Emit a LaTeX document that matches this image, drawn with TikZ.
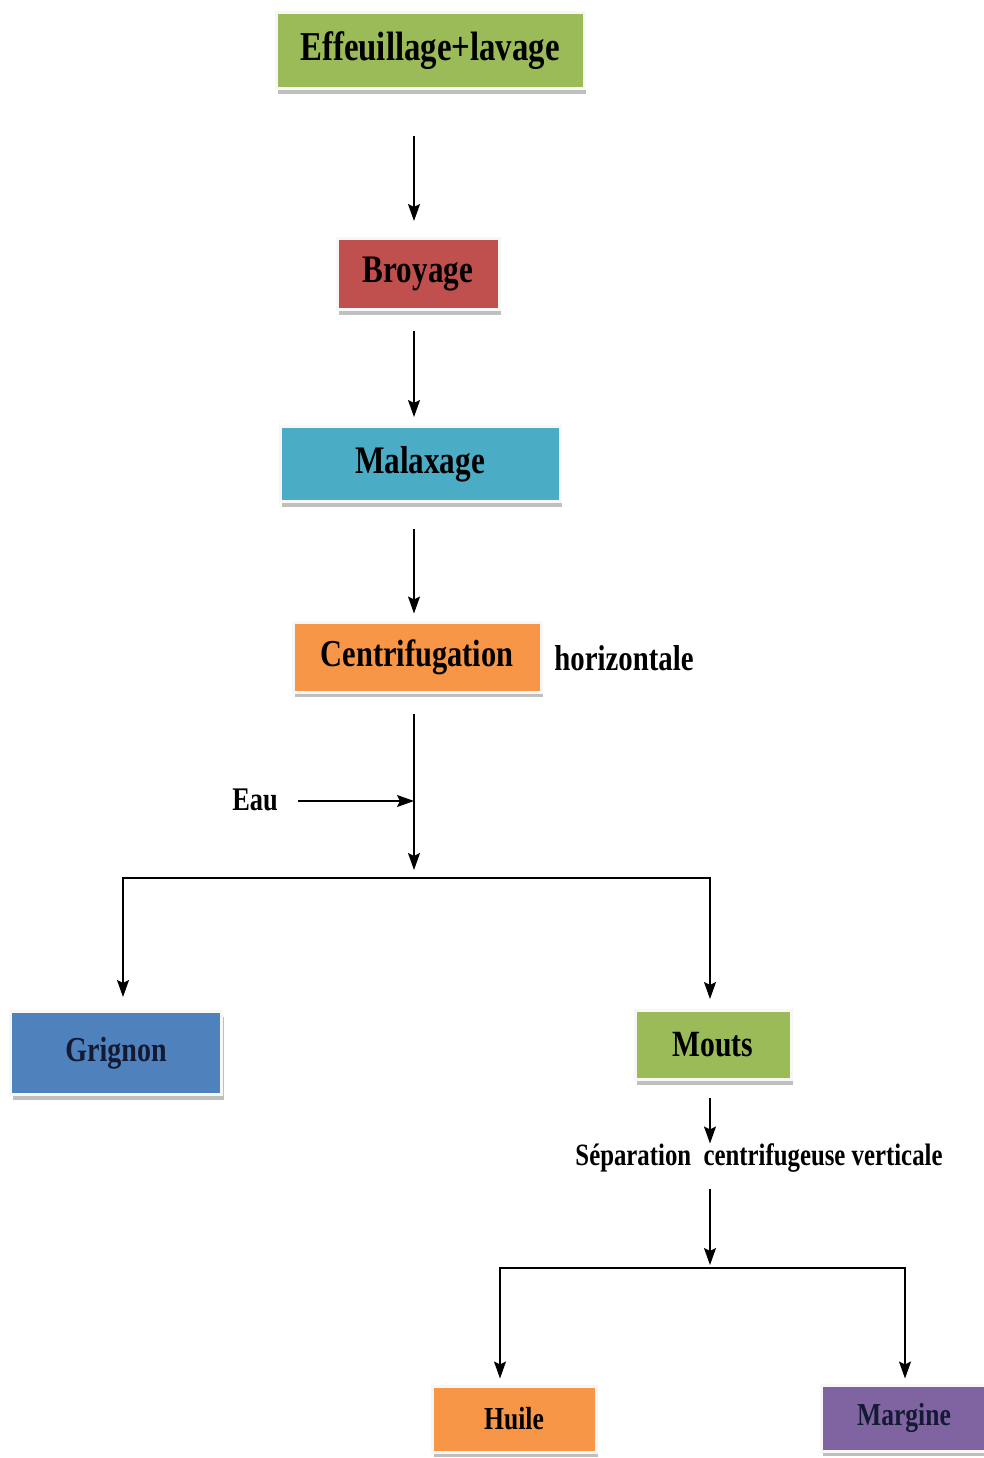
\documentclass[tikz,border=0pt]{standalone}
\usepackage{fontspec}
\setmainfont{Liberation Serif}
\newfontfamily\stepfont[FakeStretch=0.8]{Liberation Serif}
\usetikzlibrary{arrows.meta,shadows}

\definecolor{leafgreen}{HTML}{9BBB59}
\definecolor{brickred}{HTML}{C0504D}
\definecolor{aqua}{HTML}{4BACC6}
\definecolor{tangerine}{HTML}{F79646}
\definecolor{steelblue}{HTML}{4F81BD}
\definecolor{lavender}{HTML}{8064A2}
\definecolor{inkblue}{HTML}{141A33}

\begin{document}
\begin{tikzpicture}[x=1pt,y=-1pt,
    step_box/.style={rectangle,draw=white!94!gray,line width=3pt,inner sep=0pt,
        drop shadow={shadow xshift=2pt,shadow yshift=-5pt,opacity=0.5,fill=gray},
        font=\stepfont\bfseries},
    side_text/.style={inner sep=0pt,font=\stepfont\bfseries},
    flow/.style={-{Stealth[length=17pt,width=12pt,inset=3pt]},line width=1.8pt}]

    \useasboundingbox (0,0) rectangle (983,1458);

    \node[step_box,fill=leafgreen,minimum width=308pt,minimum height=76pt] (1) at (430,51) {\fontsize{41}{41}\selectfont Effeuillage+lavage};
    \node[step_box,fill=brickred,minimum width=162pt,minimum height=71pt] (2) at (418,274) {\fontsize{39}{39}\selectfont Broyage};
    \node[step_box,fill=aqua,minimum width=280pt,minimum height=75pt] (3) at (420,464) {\fontsize{39}{39}\selectfont Malaxage};
    \node[step_box,fill=tangerine,minimum width=248pt,minimum height=70pt] (4) at (417,657) {\fontsize{38}{38}\selectfont Centrifugation};
    \node[side_text] (h) at (624,658) {\fontsize{36}{36}\selectfont horizontale};
    \node[side_text] (eau) at (255,800) {\fontsize{33}{33}\selectfont Eau};

    \node[step_box,fill=steelblue,text=inkblue,minimum width=211pt,minimum height=83pt] (5) at (116,1053) {\fontsize{35}{35}\selectfont Grignon};
    \node[step_box,fill=leafgreen,minimum width=156pt,minimum height=69pt] (6) at (713,1045) {\fontsize{37}{37}\selectfont Mouts};
    \node[side_text] (sep) at (759,1158) {\fontsize{31}{31}\selectfont S\'eparation\ \ centrifugeuse verticale};

    \node[step_box,fill=tangerine,minimum width=164pt,minimum height=66pt] (7) at (514,1419) {\fontsize{32}{32}\selectfont Huile};
    \node[step_box,fill=lavender,text=inkblue,minimum width=166pt,minimum height=66pt] (8) at (904,1418) {\fontsize{32}{32}\selectfont Margine};

    \coordinate (s1) at (414,878);
    \coordinate (e1) at (414,801);
    \coordinate (s2) at (710,1268);

    % main line
    \draw[flow,shorten <=46pt,shorten >=16pt] (1.south -| s1) -- (2.north -| s1);
    \draw[flow,shorten <=20pt,shorten >=8pt] (2.south -| s1) -- (3.north -| s1);
    \draw[flow,shorten <=26pt,shorten >=7pt] (3.south -| s1) -- (4.north -| s1);
    \draw[flow,shorten <=20pt,shorten >=8pt] (4.south -| s1) -- (s1);
    \draw[flow,shorten <=20pt] (eau.east |- e1) -- (e1);

    % first split
    \draw[flow,shorten >=13pt] (s1) -| ([xshift=7pt]5.north);
    \draw[flow,shorten >=10pt] (s1) -| ([xshift=-3pt]6.north);
    \draw[flow,shorten <=17pt] (6.south -| s2) -- (sep.north -| s2);
    \draw[flow,shorten <=16pt,shorten >=3pt] (sep.south -| s2) -- (s2);

    % second split
    \draw[flow,shorten >=6pt] (s2) -| ([xshift=-14pt]7.north);
    \draw[flow,shorten >=5pt] (s2) -| ([xshift=1pt]8.north);
\end{tikzpicture}
\end{document}
